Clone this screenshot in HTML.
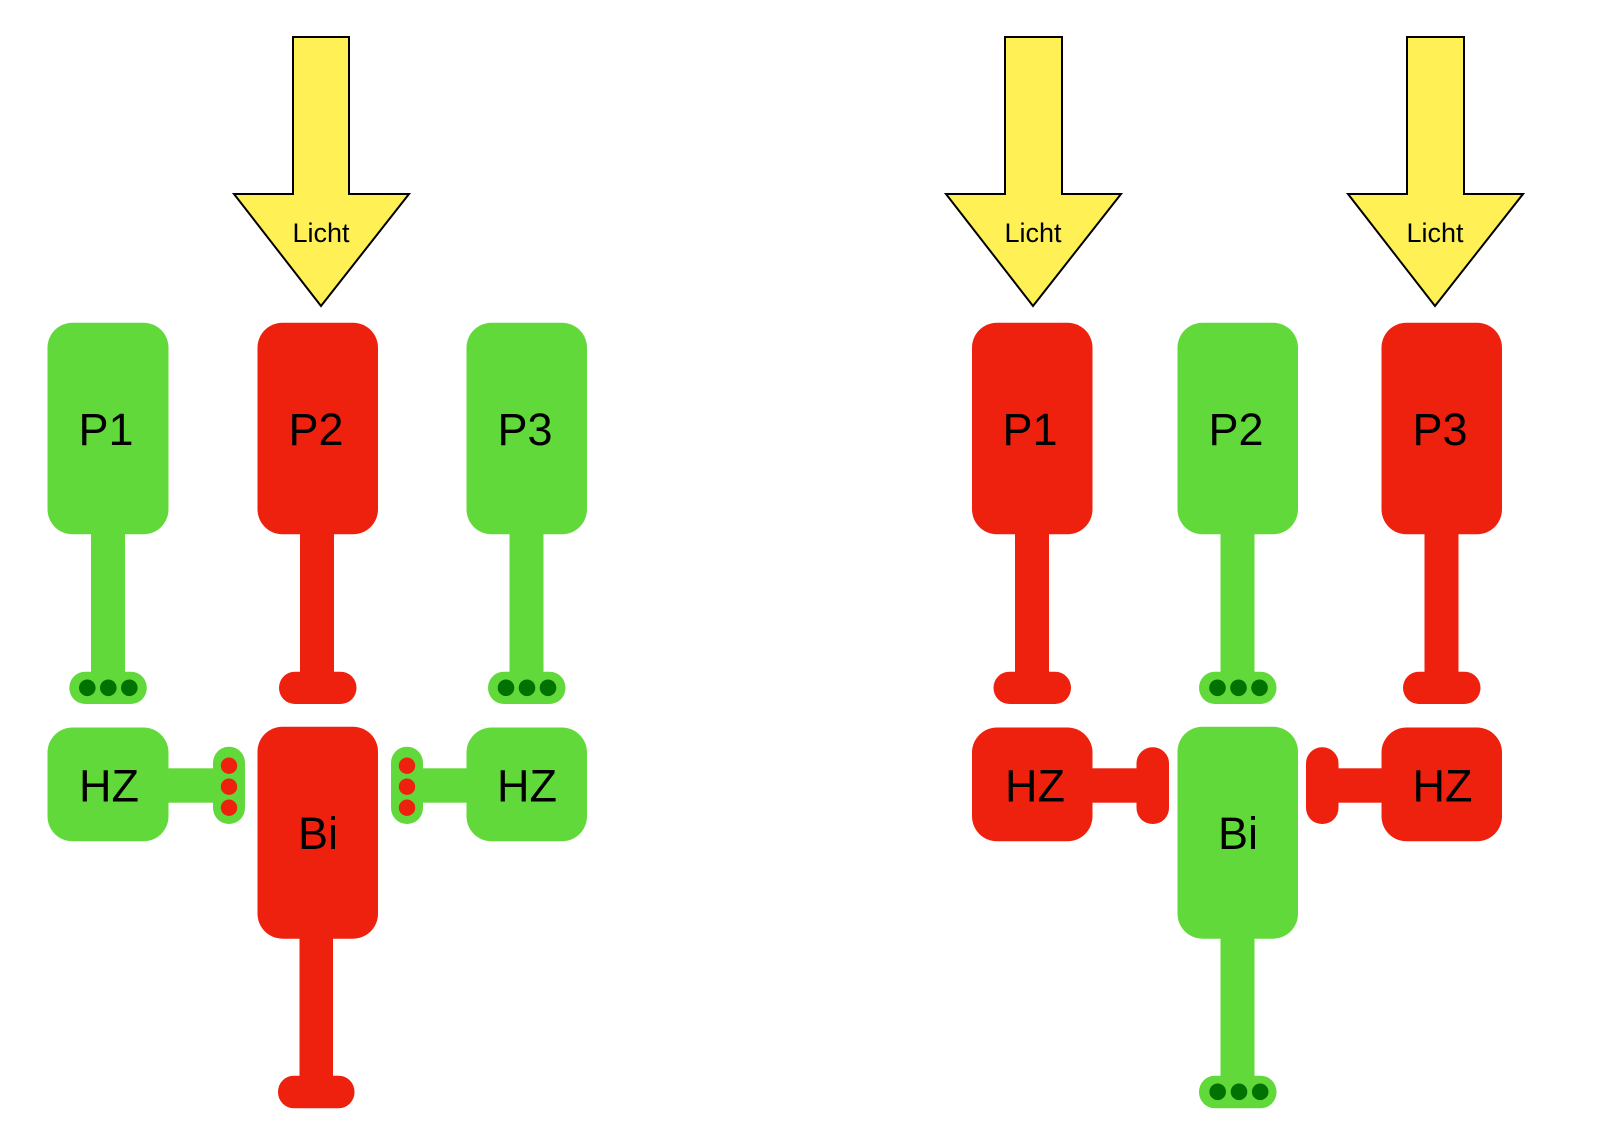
<!DOCTYPE html>
<html><head><meta charset="utf-8"><style>
html,body{margin:0;padding:0;background:#fff;}
svg{display:block;}
text{font-family:"Liberation Sans",sans-serif;fill:#000;}
</style></head><body>
<svg width="1600" height="1148" viewBox="0 0 1600 1148" xmlns="http://www.w3.org/2000/svg">
<defs>
<style>.g{fill:#62d93a}.r{fill:#ee210f}.dg{fill:#017101}.rd{fill:#ee210f}.big{font-size:45px}.lic{font-size:27px}</style>
</defs>

<!-- ARROWS -->
<polygon points="293,37 349,37 349,194 409,194 321,306 234,194 293,194" fill="#fff056" stroke="#000" stroke-width="2"/>
<text x="321" y="242" class="lic" text-anchor="middle">Licht</text>
<polygon points="1005,37 1062,37 1062,194 1121,194 1033,306 946,194 1005,194" fill="#fff056" stroke="#000" stroke-width="2"/>
<text x="1033" y="242" class="lic" text-anchor="middle">Licht</text>
<polygon points="1407,37 1464,37 1464,194 1523,194 1435,306 1348,194 1407,194" fill="#fff056" stroke="#000" stroke-width="2"/>
<text x="1435" y="242" class="lic" text-anchor="middle">Licht</text>

<!-- LEFT DIAGRAM -->
<rect class="g" x="47.5" y="322.7" width="121" height="211.6" rx="25"/>
<rect class="g" x="91" y="525" width="34" height="160"/>
<rect class="g" x="69.3" y="671.7" width="77.5" height="32.3" rx="16"/>
<circle class="dg" cx="87.3" cy="687.8" r="8.3"/><circle class="dg" cx="108.3" cy="687.8" r="8.3"/><circle class="dg" cx="129.3" cy="687.8" r="8.3"/>
<text x="106" y="445" class="big" text-anchor="middle">P1</text>

<rect class="r" x="257.5" y="322.7" width="120.5" height="211.6" rx="25"/>
<rect class="r" x="300" y="525" width="34" height="160"/>
<rect class="r" x="279" y="671.7" width="77.5" height="32.3" rx="16"/>
<text x="316" y="445" class="big" text-anchor="middle">P2</text>

<rect class="g" x="466.5" y="322.7" width="120.5" height="211.6" rx="25"/>
<rect class="g" x="509.5" y="525" width="34" height="160"/>
<rect class="g" x="488" y="671.7" width="77.5" height="32.3" rx="16"/>
<circle class="dg" cx="506" cy="687.8" r="8.3"/><circle class="dg" cx="527" cy="687.8" r="8.3"/><circle class="dg" cx="548" cy="687.8" r="8.3"/>
<text x="525" y="445" class="big" text-anchor="middle">P3</text>

<rect class="g" x="47.5" y="727.5" width="121" height="113.8" rx="25"/>
<rect class="g" x="160" y="768.3" width="60" height="34.4"/>
<rect class="g" x="213" y="746.7" width="32" height="77.3" rx="16"/>
<circle class="rd" cx="229" cy="765.7" r="8.2"/><circle class="rd" cx="229" cy="786.7" r="8.2"/><circle class="rd" cx="229" cy="807.7" r="8.2"/>
<text x="109" y="801.7" class="big" text-anchor="middle">HZ</text>

<rect class="g" x="466.5" y="727.5" width="120.5" height="113.8" rx="25"/>
<rect class="g" x="413" y="768.3" width="60" height="34.4"/>
<rect class="g" x="391" y="746.7" width="32" height="77.3" rx="16"/>
<circle class="rd" cx="407" cy="765.7" r="8.2"/><circle class="rd" cx="407" cy="786.7" r="8.2"/><circle class="rd" cx="407" cy="807.7" r="8.2"/>
<text x="527" y="801.7" class="big" text-anchor="middle">HZ</text>

<rect class="r" x="257.5" y="726.7" width="120.5" height="212" rx="25"/>
<rect class="r" x="299.5" y="930" width="33.5" height="160"/>
<rect class="r" x="278" y="1075.7" width="76.5" height="32.6" rx="16"/>
<text x="318" y="849" class="big" text-anchor="middle">Bi</text>

<!-- RIGHT DIAGRAM -->
<rect class="r" x="972" y="322.7" width="120.5" height="211.6" rx="25"/>
<rect class="r" x="1015" y="525" width="34" height="160"/>
<rect class="r" x="993.5" y="671.7" width="77.5" height="32.3" rx="16"/>
<text x="1030" y="445" class="big" text-anchor="middle">P1</text>

<rect class="g" x="1177.5" y="322.7" width="120.5" height="211.6" rx="25"/>
<rect class="g" x="1220.5" y="525" width="34" height="160"/>
<rect class="g" x="1199" y="671.7" width="77.5" height="32.3" rx="16"/>
<circle class="dg" cx="1217.5" cy="687.8" r="8.3"/><circle class="dg" cx="1238.5" cy="687.8" r="8.3"/><circle class="dg" cx="1259.5" cy="687.8" r="8.3"/>
<text x="1236" y="445" class="big" text-anchor="middle">P2</text>

<rect class="r" x="1381.5" y="322.7" width="120.5" height="211.6" rx="25"/>
<rect class="r" x="1424.5" y="525" width="34" height="160"/>
<rect class="r" x="1403" y="671.7" width="77.5" height="32.3" rx="16"/>
<text x="1440" y="445" class="big" text-anchor="middle">P3</text>

<rect class="r" x="972" y="727.5" width="120.5" height="113.8" rx="25"/>
<rect class="r" x="1085" y="768.3" width="60" height="34.4"/>
<rect class="r" x="1136.5" y="747.3" width="32.5" height="76.7" rx="16"/>
<text x="1035" y="801.7" class="big" text-anchor="middle">HZ</text>

<rect class="r" x="1381.5" y="727.5" width="120.5" height="113.8" rx="25"/>
<rect class="r" x="1329" y="768.3" width="60" height="34.4"/>
<rect class="r" x="1306" y="747.3" width="32.5" height="76.7" rx="16"/>
<text x="1442.5" y="801.7" class="big" text-anchor="middle">HZ</text>

<rect class="g" x="1177.5" y="726.7" width="120.5" height="212" rx="25"/>
<rect class="g" x="1220.5" y="930" width="34" height="160"/>
<rect class="g" x="1199" y="1075.7" width="77.5" height="32.6" rx="16"/>
<circle class="dg" cx="1217.7" cy="1091.8" r="8.3"/><circle class="dg" cx="1239" cy="1091.8" r="8.3"/><circle class="dg" cx="1260.2" cy="1091.8" r="8.3"/>
<text x="1238" y="849" class="big" text-anchor="middle">Bi</text>
</svg>
</body></html>
